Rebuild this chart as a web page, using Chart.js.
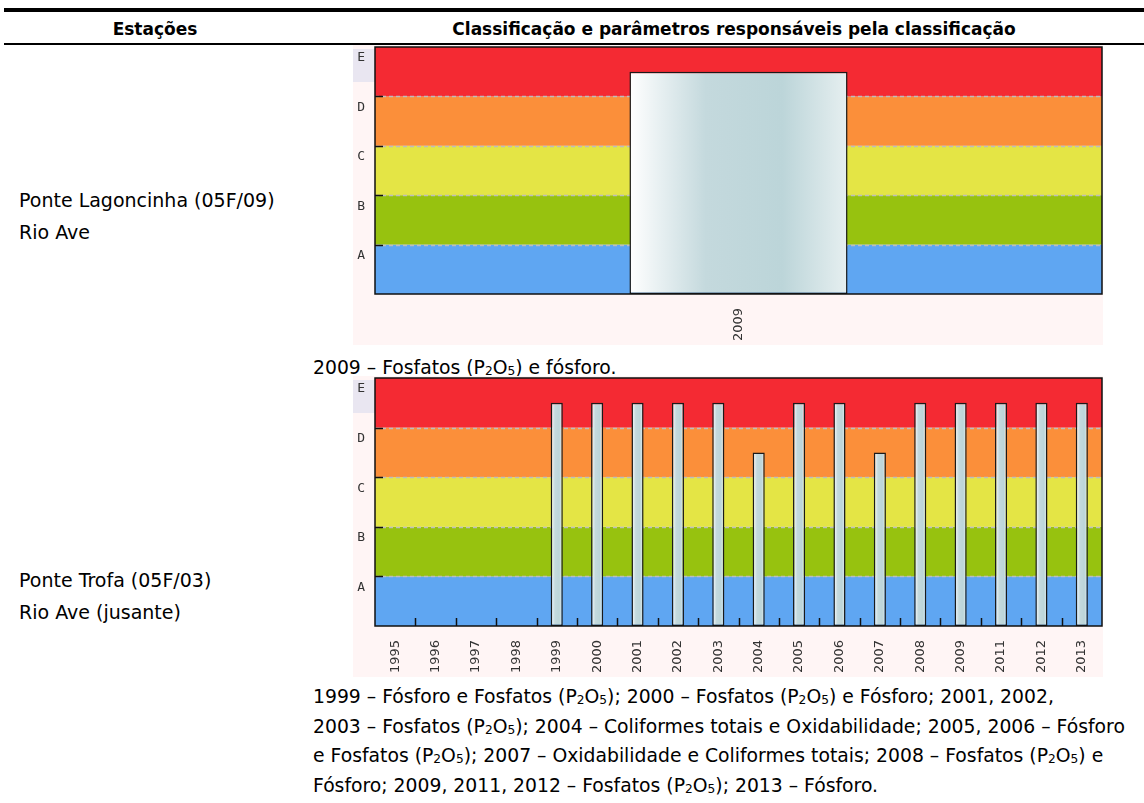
<!DOCTYPE html>
<html lang="pt">
<head>
<meta charset="UTF-8">
<title>Classificação das estações</title>
<script src="https://cdn.jsdelivr.net/npm/chart.js"></script>
<style>
    body {
        margin: 0;
        width: 1144px;
        height: 803px;
        position: relative;
        overflow: hidden;
        background: #ffffff;
        color: #000000;
        font-family: "DejaVu Sans", sans-serif;
    }
    .rule-top { position: absolute; left: 4px; right: 0; top: 8px; height: 4px; background: #000; }
    .rule-head { position: absolute; left: 4px; right: 0; top: 43px; height: 2px; background: #000; }
    .head {
        position: absolute;
        top: 19px;
        font-weight: bold;
        font-size: 17px;
        transform: translateX(-50%);
        white-space: nowrap;
    }
    .station { position: absolute; left: 19px; font-size: 19px; line-height: 32px; white-space: nowrap; }
    .caption { position: absolute; left: 313px; font-size: 18.8px; line-height: 29.7px; white-space: nowrap; }
    sub { font-size: 0.65em; vertical-align: -0.12em; line-height: 0; }
    .chart { position: absolute; left: 353px; width: 750px; }
</style>
</head>
<body>
    <div class="rule-top"></div>
    <div class="head" style="left:155px;">Estações</div>
    <div class="head" style="left:734px;">Classificação e parâmetros responsáveis pela classificação</div>
    <div class="rule-head"></div>

    <div class="station" style="top:184px;">Ponte Lagoncinha (05F/09)<br>Rio Ave</div>
    <div class="chart" style="top:45px; height:300px;"><canvas id="chartLagoncinha"></canvas></div>
    <div class="caption" style="top:353px;">2009 – Fosfatos (P<sub>2</sub>O<sub>5</sub>) e fósforo.</div>

    <div class="station" style="top:564px;">Ponte Trofa (05F/03)<br>Rio Ave (jusante)</div>
    <div class="chart" style="top:376px; height:301px;"><canvas id="chartTrofa"></canvas></div>
    <div class="caption" style="top:682px;">
        1999 – Fósforo e Fosfatos (P<sub>2</sub>O<sub>5</sub>); 2000 – Fosfatos (P<sub>2</sub>O<sub>5</sub>) e Fósforo; 2001, 2002,<br>
        2003 – Fosfatos (P<sub>2</sub>O<sub>5</sub>); 2004 – Coliformes totais e Oxidabilidade; 2005, 2006 – Fósforo<br>
        e Fosfatos (P<sub>2</sub>O<sub>5</sub>); 2007 – Oxidabilidade e Coliformes totais; 2008 – Fosfatos (P<sub>2</sub>O<sub>5</sub>) e<br>
        Fósforo; 2009, 2011, 2012 – Fosfatos (P<sub>2</sub>O<sub>5</sub>); 2013 – Fósforo.
    </div>

<script>
    // classes A..E, drawn as coloured bands behind the bars
    const classLabels = ['', 'A', 'B', 'C', 'D', 'E'];
    const bandColors = ['#5fa6f2', '#97c20f', '#e4e545', '#fb8f3a', '#f42a33'];

    const yearsLagoncinha = ['2009'];
    const classLagoncinha = [4.5];

    const yearsTrofa = ['1995', '1996', '1997', '1998', '1999', '2000', '2001', '2002', '2003',
                        '2004', '2005', '2006', '2007', '2008', '2009', '2011', '2012', '2013'];
    const classTrofa = [null, null, null, null, 4.5, 4.5, 4.5, 4.5, 4.5,
                        3.5, 4.5, 4.5, 3.5, 4.5, 4.5, 4.5, 4.5, 4.5];

    const barPct = 0.3;

    function barFill(context) {
        const chart = context.chart;
        const xs = chart.scales.x;
        if (!xs || !chart.chartArea) return '#c8dce0';
        const n = chart.data.labels.length;
        const cx = xs.getPixelForValue(context.dataIndex);
        const w = (xs.right - xs.left) / n * barPct;
        const g = chart.ctx.createLinearGradient(cx - w / 2, 0, cx + w / 2, 0);
        g.addColorStop(0, '#ffffff');
        g.addColorStop(0.35, '#c4d9dd');
        g.addColorStop(0.7, '#bcd5d9');
        g.addColorStop(1, '#e6eff0');
        return g;
    }

    const classBands = {
        id: 'classBands',
        beforeDraw(chart) {
            const ctx = chart.ctx;
            ctx.save();
            ctx.fillStyle = '#fff5f5';
            ctx.fillRect(0, 0, chart.width, chart.height);
            // pale corner behind the top label
            ctx.fillStyle = '#e9e6f1';
            ctx.fillRect(0, 4, chart.chartArea.left, 33);
            ctx.restore();
        },
        beforeDatasetsDraw(chart) {
            const ctx = chart.ctx;
            const { left, right, top, bottom } = chart.chartArea;
            const y = chart.scales.y;
            ctx.save();
            bandColors.forEach((c, i) => {
                const y0 = y.getPixelForValue(i);
                const y1 = y.getPixelForValue(i + 1);
                ctx.fillStyle = c;
                ctx.fillRect(left, y1, right - left, y0 - y1);
            });
            ctx.strokeStyle = '#bdbdbd';
            ctx.lineWidth = 1.5;
            ctx.setLineDash([4, 3]);
            for (let v = 1; v < bandColors.length; v++) {
                const py = Math.round(y.getPixelForValue(v)) + 0.5;
                ctx.beginPath();
                ctx.moveTo(left, py);
                ctx.lineTo(right, py);
                ctx.stroke();
            }
            ctx.setLineDash([]);
            ctx.strokeStyle = '#111';
            ctx.lineWidth = 1.5;
            for (let v = 1; v < bandColors.length; v++) {
                const py = Math.round(y.getPixelForValue(v)) + 0.5;
                ctx.beginPath();
                ctx.moveTo(left, py);
                ctx.lineTo(left + 8, py);
                ctx.stroke();
            }
            // ticks between categories, pointing up from the axis
            const n = chart.data.labels.length;
            const step = (right - left) / n;
            for (let i = 1; i < n; i++) {
                const px = Math.round(left + i * step) + 0.5;
                ctx.beginPath();
                ctx.moveTo(px, bottom);
                ctx.lineTo(px, bottom - 8);
                ctx.stroke();
            }
            ctx.restore();
        },
        afterDatasetsDraw(chart) {
            const ctx = chart.ctx;
            const { left, right, top, bottom } = chart.chartArea;
            ctx.save();
            ctx.strokeStyle = '#111';
            ctx.lineWidth = 1.5;
            ctx.strokeRect(left, top, right - left, bottom - top);
            ctx.restore();
        }
    };

    function makeChart(id, labels, values) {
        return new Chart(document.getElementById(id), {
            type: 'bar',
            data: {
                labels: labels,
                datasets: [{
                    data: values,
                    backgroundColor: barFill,
                    borderColor: '#1a1a1a',
                    borderWidth: 1.5,
                    borderSkipped: false,
                    barPercentage: barPct,
                    categoryPercentage: 1
                }]
            },
            options: {
                responsive: true,
                maintainAspectRatio: false,
                animation: false,
                layout: { padding: { top: 2, right: 1, left: 0, bottom: 0 } },
                plugins: {
                    legend: { display: false },
                    tooltip: { enabled: false }
                },
                scales: {
                    x: {
                        offset: true,
                        grid: { display: false, drawTicks: false },
                        border: { display: false },
                        ticks: {
                            autoSkip: false,
                            minRotation: 90,
                            maxRotation: 90,
                            padding: 14,
                            color: '#333',
                            font: { family: 'DejaVu Sans', size: 13 }
                        },
                        afterFit(scale) {
                            scale.height = 51;
                            scale.paddingLeft = 0;
                            scale.paddingRight = 0;
                        }
                    },
                    y: {
                        min: 0,
                        max: 5,
                        grid: { display: false, drawTicks: false },
                        border: { display: false },
                        ticks: {
                            stepSize: 1,
                            labelOffset: 11,
                            padding: 10,
                            color: '#333',
                            font: { family: 'DejaVu Sans Mono', size: 13 },
                            callback: v => classLabels[v] || ''
                        },
                        afterFit(scale) {
                            scale.width = 22;
                            scale.paddingTop = 0;
                            scale.paddingBottom = 0;
                        }
                    }
                }
            },
            plugins: [classBands]
        });
    }

    makeChart('chartLagoncinha', yearsLagoncinha, classLagoncinha);
    makeChart('chartTrofa', yearsTrofa, classTrofa);
</script>
</body>
</html>
